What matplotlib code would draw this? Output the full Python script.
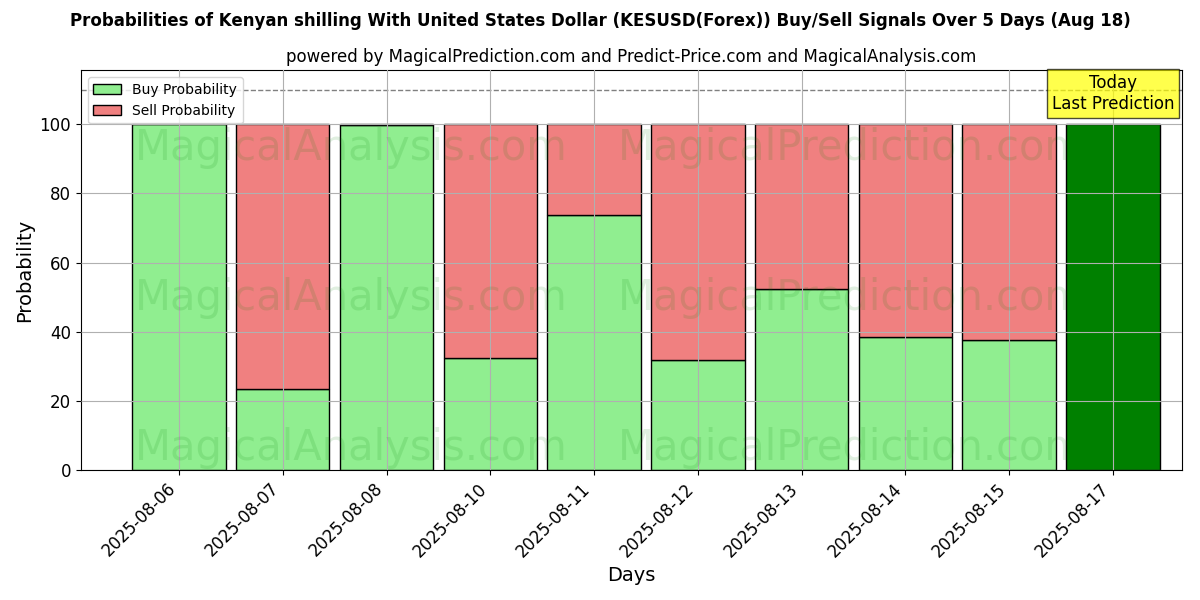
import matplotlib
matplotlib.use('Agg')
import matplotlib.pyplot as plt
import numpy as np

# --- data ---
dates = ['2025-08-06', '2025-08-07', '2025-08-08', '2025-08-10', '2025-08-11',
         '2025-08-12', '2025-08-13', '2025-08-14', '2025-08-15', '2025-08-17']
buy_prob = [100.0, 23.5, 99.7, 32.5, 73.8, 31.7, 52.2, 38.4, 37.5, 100.0]
sell_prob = [100 - b for b in buy_prob]

fig, ax = plt.subplots(figsize=(12, 6), dpi=100)
x = np.arange(len(dates))
buy_colors = ['lightgreen'] * (len(dates) - 1) + ['green']

ax.bar(x, buy_prob, width=0.9, color=buy_colors, edgecolor='black', label='Buy Probability')
ax.bar(x[:-1], sell_prob[:-1], bottom=buy_prob[:-1], width=0.9, color='lightcoral',
       edgecolor='black', label='Sell Probability')

ax.axhline(110, color='gray', linestyle='--', linewidth=1)
ax.text(x[-1], 109, 'Today\nLast Prediction', ha='center', va='center', fontsize=12,
        bbox=dict(facecolor='yellow', edgecolor='black', alpha=0.7, boxstyle='square,pad=0.3'))

# watermarks
for yf in (0.805, 0.43, 0.055):
    ax.text(0.245, yf, 'MagicalAnalysis.com', transform=ax.transAxes, fontsize=30,
            color='green', alpha=0.12, ha='center', va='center')
    ax.text(0.70, yf, 'MagicalPrediction.com', transform=ax.transAxes, fontsize=30,
            color='green', alpha=0.12, ha='center', va='center')

ax.set_xticks(x)
ax.set_xticklabels(dates, rotation=45, ha='right', fontsize=12)
ax.tick_params(axis='y', labelsize=12)
ax.set_xlim(-0.945, 9.67)
ax.set_ylim(0, 115.6)
ax.grid(True)
ax.set_axisbelow(False)
ax.set_xlabel('Days', fontsize=14)
ax.set_ylabel('Probability', fontsize=14)
ax.set_title('powered by MagicalPrediction.com and Predict-Price.com and MagicalAnalysis.com', fontsize=12)
fig.suptitle('Probabilities of Kenyan shilling With United States Dollar (KESUSD(Forex)) Buy/Sell Signals Over 5 Days (Aug 18)',
             fontsize=12, fontweight='bold')
ax.legend(loc='upper left')

plt.tight_layout()
plt.savefig('out.png')
